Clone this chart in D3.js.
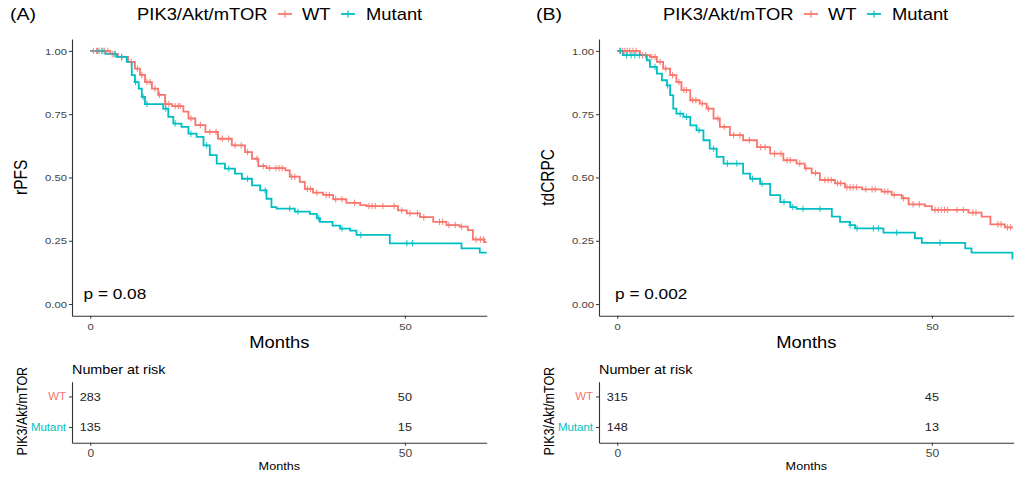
<!DOCTYPE html>
<html><head><meta charset="utf-8">
<script src="https://cdn.jsdelivr.net/npm/d3@7"></script>
<style>body{margin:0;background:#fff}svg{display:block}text{font-family:"Liberation Sans",Arial,Helvetica,sans-serif}</style>
</head><body><svg id="c" width="1023" height="484"></svg>
<script>
// ---------------- data ----------------
const groups = ["WT", "Mutant"];
const groupColors = ["#F8766D", "#00BFC4"];
const legendTitle = "PIK3/Akt/mTOR";
const panelLabels = ["(A)", "(B)"];
const yTitles = ["rPFS", "tdCRPC"];
const pValues = ["p = 0.08", "p = 0.002"];
const xTitle = "Months";
const yTicks = [0, 0.25, 0.5, 0.75, 1];
const xTicks = [0, 50];
const riskTimes = [0, 50];

// Panel A – rPFS (time in months, survival probability)
const rpfsWT = [[0,1.0],[3.2,0.988],[4.4,0.976],[6,0.957],[7.1,0.93],[7.9,0.905],[8.7,0.877],[9.8,0.851],[10.8,0.826],[11.9,0.79],[13,0.782],[14.8,0.76],[15.6,0.733],[16.7,0.707],[18.3,0.68],[20.3,0.653],[22.5,0.627],[24.6,0.60],[25.7,0.574],[26.7,0.545],[28,0.537],[31,0.528],[31.7,0.503],[33.3,0.483],[34.1,0.455],[35.4,0.44],[37,0.431],[38.6,0.414],[40.7,0.40],[42.9,0.391],[43.9,0.387],[48.9,0.37],[50.3,0.358],[52.4,0.343],[54.5,0.325],[56.6,0.312],[58.7,0.306],[60,0.292],[60.8,0.255],[62.6,0.245],[63,0.245]];
const rpfsMut = [[0,1.0],[2.4,0.988],[4.2,0.976],[5.8,0.957],[6.6,0.904],[7.1,0.877],[7.7,0.851],[8.2,0.818],[8.7,0.79],[11.6,0.772],[12.4,0.739],[13.2,0.713],[14.5,0.70],[15.6,0.673],[16.9,0.66],[18,0.627],[19,0.588],[20.1,0.555],[21.4,0.535],[23,0.515],[24.1,0.495],[25.7,0.469],[27,0.449],[28,0.416],[28.8,0.383],[29.6,0.377],[32.5,0.365],[34.9,0.356],[36,0.339],[36.5,0.325],[38.5,0.31],[39.7,0.298],[41.3,0.29],[42.3,0.273],[47.6,0.24],[59,0.22],[61.9,0.203],[63,0.203]];
const rpfsWTCens = [0.5,1,1.4,1.8,2.3,2.8,3.5,4,5,6.5,7.5,8.2,9,9.5,10.3,11,12,12.5,13.5,14,14.3,16,17.5,19,20,21,22,23,24,25,26.5,27.5,28.5,29.5,30,30.5,32,32.5,34.5,35,36,37.5,38,39,40,42,44.3,44.8,45.3,46.5,48.3,49.5,50.8,52,53,55.5,56,57,58,59,61.3,62,62.5];
const rpfsMutCens = [1.2,2,3.8,5,7.2,8.4,9,12,13.5,16,18.5,22,25,27.8,31.7,33,36.3,40,43,50.3,51.2];

// Panel B – tdCRPC
const tdWT = [[0,1.0],[3.6,0.983],[5.2,0.976],[6.3,0.957],[7.3,0.93],[8.4,0.904],[9.4,0.877],[10.2,0.845],[11.6,0.805],[13.1,0.792],[14.2,0.772],[15.3,0.733],[16.3,0.70],[17.9,0.667],[20,0.647],[22.2,0.62],[24.3,0.594],[26.4,0.568],[28.5,0.555],[29.8,0.536],[30.9,0.517],[32.2,0.49],[34.6,0.477],[36.2,0.461],[38.9,0.453],[42,0.444],[43.6,0.431],[45.2,0.418],[46.3,0.394],[48.9,0.387],[50,0.372],[55.8,0.361],[57.9,0.345],[59.3,0.315],[61.6,0.303],[62.9,0.303]];
const tdMut = [[0,1.0],[0.9,0.983],[4.7,0.963],[5.2,0.937],[6.3,0.91],[7.1,0.884],[7.9,0.864],[8.4,0.825],[8.9,0.772],[9.4,0.752],[10.5,0.739],[11.6,0.706],[12.6,0.686],[13.7,0.647],[14.7,0.614],[15.8,0.581],[16.9,0.555],[20,0.515],[21.1,0.495],[22.7,0.475],[24.3,0.43],[25.9,0.403],[27.5,0.383],[28.5,0.376],[34.1,0.345],[35.4,0.325],[37,0.312],[37.8,0.299],[42.3,0.282],[47.3,0.26],[48.4,0.242],[55.3,0.22],[56.3,0.203],[62.8,0.18],[62.9,0.18]];
const tdWTCens = [0.4,0.8,1.2,1.6,2,2.5,3,4,4.5,5.5,6,6.8,7.7,8.8,9.8,10.6,11,12,12.5,13.5,14.5,16,17,18.5,19.5,21,22.8,23.5,25,26,27,27.5,29,30,31.5,33,33.5,34,35,35.5,36.5,37,37.5,38,39.5,40.5,41,42.5,43,44,45.5,47,48,50.5,51,51.5,52,52.5,54,55,56.5,57,60.5,61,62,62.5];
const tdMutCens = [0.5,1.5,2.2,2.8,3.5,6,8,10,11,13,15.3,17.5,19,21.5,23,26.5,27.9,29.5,32.2,37,38.1,40.7,41.5,44.4,51.3];

// Number at risk (rows: WT, Mutant; columns: riskTimes)
const riskA_WT = [283, 50];
const riskA_Mut = [135, 15];
const riskB_WT = [315, 45];
const riskB_Mut = [148, 13];

// ---------------- layout ----------------
const SX = 1.15; // horizontal text stretch of the original image
const panels = [
  {ax: 72, labelX: 10, legendX: 137, pX: 83.5, curves: [rpfsWT, rpfsMut], cens: [rpfsWTCens, rpfsMutCens], risk: [riskA_WT, riskA_Mut]},
  {ax: 599, labelX: 536, legendX: 663, pX: 615, curves: [tdWT, tdMut], cens: [tdWTCens, tdMutCens], risk: [riskB_WT, riskB_Mut]}
];
const plotW = 414.7, plotTop = 39, plotBottom = 315.7;
const tableTop = 381.7, tableBottom = 442.7;

const svg = d3.select("#c");
const font = "'Liberation Sans', Arial, sans-serif";

function stext(g, x, y, str, size, opts = {}) {
  const t = g.append("text")
    .attr("transform", `translate(${x},${y}) ${opts.rot ? "rotate(-90) scale(1," + SX + ")" : "scale(" + SX + ",1)"}`)
    .attr("font-size", size)
    .attr("text-anchor", opts.anchor || "start")
    .attr("fill", opts.fill || "#000")
    .text(str);
  if (opts.dy) t.attr("dy", opts.dy);
  return t;
}
function stretchAxisText(sel) {
  sel.selectAll(".tick text").each(function () {
    const x = +this.getAttribute("x") || 0;
    d3.select(this).attr("transform", `translate(${x * (1 - SX)},0) scale(${SX},1)`);
  });
}
function styleAxis(g, fs) {
  g.selectAll(".domain").attr("stroke", "#333").attr("stroke-width", 1.1);
  g.selectAll(".tick line").attr("stroke", "#333").attr("stroke-width", 1);
  g.selectAll(".tick text").attr("fill", "#444").attr("font-size", fs).attr("font-family", font);
  stretchAxisText(g);
}
function survAt(curve, t) {
  const i = d3.bisector(d => d[0]).right(curve, t) - 1;
  return curve[Math.max(0, i)][1];
}

panels.forEach((p, pi) => {
  const g = svg.append("g");
  const x = d3.scaleLinear().domain([-2.9, 63]).range([p.ax, p.ax + plotW]);
  const y = d3.scaleLinear().domain([-0.046, 1.047]).range([plotBottom, plotTop]);

  // panel label & legend
  stext(g, p.labelX, 20, panelLabels[pi], 17);
  stext(g, p.legendX, 20, legendTitle, 16);
  const keyOff = [[141, 165], [204, 229]];
  groups.forEach((gr, gi) => {
    const kx = p.legendX + keyOff[gi][0];
    g.append("line").attr("x1", kx).attr("x2", kx + 14).attr("y1", 14).attr("y2", 14)
      .attr("stroke", groupColors[gi]).attr("stroke-width", 1.8);
    g.append("line").attr("x1", kx + 7).attr("x2", kx + 7).attr("y1", 10.5).attr("y2", 17.5)
      .attr("stroke", groupColors[gi]).attr("stroke-width", 1.2);
    stext(g, p.legendX + keyOff[gi][1], 20, gr, 16);
  });

  // axes
  const ya = g.append("g").attr("transform", `translate(${p.ax},0)`)
    .call(d3.axisLeft(y).tickValues(yTicks).tickFormat(d3.format(".2f")).tickSize(3).tickPadding(2).tickSizeOuter(0));
  styleAxis(ya, 9.8);
  const xa = g.append("g").attr("transform", `translate(0,${plotBottom})`)
    .call(d3.axisBottom(x).tickValues(xTicks).tickFormat(d3.format("d")).tickSize(3).tickPadding(4).tickSizeOuter(0));
  styleAxis(xa, 9.8);

  // titles
  stext(g, p.ax + plotW / 2, 348, xTitle, 16, {anchor: "middle"});
  stext(g, p.ax - 45, (plotTop + plotBottom) / 2, yTitles[pi], 15.5, {anchor: "middle", rot: true});
  stext(g, p.pX, 299, pValues[pi], 15);

  // curves
  const line = d3.line().x(d => x(d[0])).y(d => y(d[1])).curve(d3.curveStepAfter);
  p.curves.forEach((c, ci) => {
    g.append("path").attr("d", line(c)).attr("fill", "none")
      .attr("stroke", groupColors[ci]).attr("stroke-width", 1.8);
  });
  // censor marks
  p.cens.forEach((cs, ci) => {
    const cg = g.append("g").attr("stroke", groupColors[ci]).attr("stroke-width", 1.1).attr("opacity", 0.85);
    cs.forEach(t => {
      const cx = x(t), cy = y(survAt(p.curves[ci], t));
      cg.append("line").attr("x1", cx).attr("x2", cx).attr("y1", cy - 3.2).attr("y2", cy + 3.2);
      cg.append("line").attr("x1", cx - 2.3).attr("x2", cx + 2.3).attr("y1", cy).attr("y2", cy);
    });
  });

  // ---------------- risk table ----------------
  const ry = d3.scaleBand().domain(groups).range([tableTop, tableBottom]);
  stext(g, p.ax, 374, "Number at risk", 12.5);
  const rya = g.append("g").attr("transform", `translate(${p.ax},0)`)
    .call(d3.axisLeft(ry).tickSize(3).tickPadding(3).tickSizeOuter(0));
  styleAxis(rya, 10);
  rya.selectAll(".tick text").attr("fill", (d, i) => groupColors[i]);
  const rxa = g.append("g").attr("transform", `translate(0,${tableBottom})`)
    .call(d3.axisBottom(x).tickValues(xTicks).tickFormat(d3.format("d")).tickSize(3).tickPadding(4).tickSizeOuter(0));
  styleAxis(rxa, 10.5);
  stext(g, p.ax + plotW / 2, 470, xTitle, 11, {anchor: "middle"});
  stext(g, p.ax - 45, (tableTop + tableBottom) / 2 - 1, legendTitle, 12.5, {anchor: "middle", rot: true});
  p.risk.forEach((row, gi) => {
    row.forEach((n, ti) => {
      stext(g, x(riskTimes[ti]), ry(groups[gi]) + ry.bandwidth() / 2, String(n), 11, {anchor: "middle", dy: "0.35em", fill: "#222"});
    });
  });
});
</script></body></html>
